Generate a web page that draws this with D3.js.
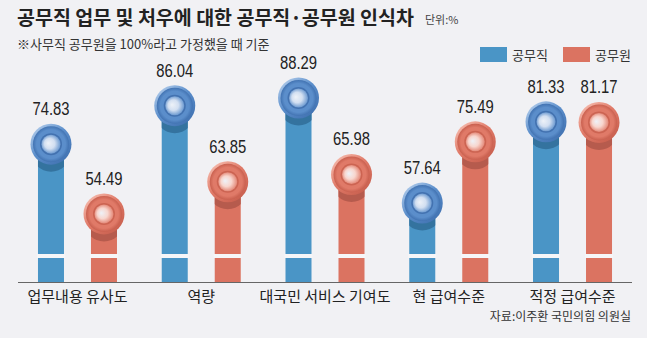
<!DOCTYPE html>
<html>
<head>
<meta charset="utf-8">
<script src="https://cdn.jsdelivr.net/npm/d3@7"></script>
<style>
  html, body { margin: 0; padding: 0; background: #f1f1f4; }
  svg { display: block; }
</style>
</head>
<body>
<svg id="chart" width="647" height="338"></svg>
<script>
// Survey categories and the two respondent groups
const categories = ["업무내용 유사도", "역량", "대국민 서비스 기여도", "현 급여수준", "적정 급여수준"];
const seriesNames = ["공무직", "공무원"];
const gongmujik = [74.83, 86.04, 88.29, 57.64, 81.33];
const gongmuwon = [54.49, 63.85, 65.98, 75.49, 81.17];

const title = "공무직 업무 및 처우에 대한 공무직·공무원 인식차";
const unitText = "단위:%";
const note = "※사무직 공무원을 100%라고 가정했을 때 기준";
const source = "자료:이주환 국민의힘 의원실";

const W = 647, H = 338;
const BG = "#f1f1f4";
const palette = {
  "공무직": { bar: "#4a95c6", shade: "#34739f", light: "#a9c6e8", mid: "#5b8ecb", dark: "#4273b2", core: "#d2dff1", ring: "#4372b0" },
  "공무원": { bar: "#db7361", shade: "#b65b4d", light: "#f4b6a8", mid: "#e07a68", dark: "#c9604f", core: "#f8d6ce", ring: "#cc6452" }
};

const svg = d3.select("#chart");
svg.append("rect").attr("width", W).attr("height", H).attr("fill", BG);

const baseY = 282;
const x0 = d3.scaleBand().domain(categories).range([15.6, 634.4]);
const x1 = d3.scalePoint().domain(seriesNames).range([-26.5, 26.5]);
const y = d3.scaleLinear().domain([0, 100]).range([400.8, 57.8]);
const barW = 26, R = 20.5;

// Gradients for the beveled knobs
const defs = svg.append("defs");
seriesNames.forEach((s, i) => {
  const c = palette[s];
  const outer = defs.append("radialGradient").attr("id", "outer" + i)
    .attr("cx", "50%").attr("cy", "50%").attr("r", "50%").attr("fx", "50%").attr("fy", "50%");
  outer.append("stop").attr("offset", "0%").attr("stop-color", c.mid);
  outer.append("stop").attr("offset", "80%").attr("stop-color", c.mid);
  outer.append("stop").attr("offset", "100%").attr("stop-color", c.dark);
  const rim = defs.append("linearGradient").attr("id", "rim" + i)
    .attr("x1", "15%").attr("y1", "10%").attr("x2", "85%").attr("y2", "90%");
  rim.append("stop").attr("offset", "0%").attr("stop-color", c.light);
  rim.append("stop").attr("offset", "45%").attr("stop-color", c.mid);
  rim.append("stop").attr("offset", "100%").attr("stop-color", c.dark);
  const inner = defs.append("radialGradient").attr("id", "inner" + i)
    .attr("cx", "50%").attr("cy", "50%").attr("r", "55%").attr("fx", "35%").attr("fy", "45%");
  inner.append("stop").attr("offset", "0%").attr("stop-color", "#eef2f8");
  inner.append("stop").attr("offset", "50%").attr("stop-color", c.core);
  inner.append("stop").attr("offset", "100%").attr("stop-color", c.mid);
});

// Title block
svg.append("text").attr("x", 17).attr("y", 25)
  .attr("font-family", "'Noto Sans CJK KR', sans-serif").attr("font-weight", 700)
  .attr("font-size", 19.5).attr("fill", "#222").text(title);
svg.append("text").attr("x", 425).attr("y", 24)
  .attr("font-family", "'Noto Sans CJK KR', sans-serif")
  .attr("font-size", 11).attr("fill", "#444").text(unitText);
svg.append("text").attr("x", 17).attr("y", 49)
  .attr("font-family", "'Noto Sans CJK KR', sans-serif")
  .attr("font-size", 13).attr("fill", "#333").text(note);

// Legend
const legend = svg.append("g").attr("font-family", "'Noto Sans CJK KR', sans-serif");
const legendX = [480, 563];
seriesNames.forEach((s, i) => {
  legend.append("rect").attr("x", legendX[i]).attr("y", 47).attr("width", 27).attr("height", 15)
    .attr("fill", palette[s].bar);
  legend.append("text").attr("x", legendX[i] + 32).attr("y", 60)
    .attr("font-size", 13).attr("fill", "#333").text(s);
});

// Bars with knobs
const rows = categories.map((c, i) => ({ cat: c, vals: [gongmujik[i], gongmuwon[i]] }));
rows.forEach((row, ci) => {
  const g = svg.append("g").attr("transform", `translate(${x0(row.cat) + x0.bandwidth() / 2},0)`);
  row.vals.forEach((v, si) => {
    const s = seriesNames[si];
    const c = palette[s];
    const cx = x1(s), cy = y(v);
    const clipId = `clip${ci}_${si}`;
    defs.append("clipPath").attr("id", clipId)
      .append("rect").attr("x", cx - barW / 2).attr("y", cy).attr("width", barW).attr("height", baseY - cy);
    g.append("rect").attr("x", cx - barW / 2).attr("y", cy).attr("width", barW).attr("height", baseY - cy)
      .attr("fill", c.bar);
    // shadow cast by the knob onto the bar
    g.append("circle").attr("cx", cx).attr("cy", cy + 8).attr("r", R - 1)
      .attr("fill", c.shade).attr("clip-path", `url(#${clipId})`);
    // break strip across the bar
    g.append("rect").attr("x", cx - barW / 2 - 1).attr("y", 254).attr("width", barW + 2).attr("height", 4)
      .attr("fill", "#f6f6f8");
    // knob
    g.append("circle").attr("cx", cx).attr("cy", cy).attr("r", R).attr("fill", `url(#rim${si})`);
    g.append("circle").attr("cx", cx).attr("cy", cy).attr("r", R - 2.5).attr("fill", `url(#outer${si})`);
    g.append("circle").attr("cx", cx).attr("cy", cy).attr("r", 11).attr("fill", c.ring);
    g.append("circle").attr("cx", cx).attr("cy", cy).attr("r", 9.5).attr("fill", `url(#inner${si})`);
    // value label
    g.append("text").attr("transform", `translate(${cx},${cy - 29}) scale(0.78,1)`)
      .attr("text-anchor", "middle")
      .attr("font-family", "'Liberation Sans', Arial, sans-serif")
      .attr("font-size", 19).attr("fill", "#222").text(d3.format(".2f")(v));
  });
});

// Baseline axis with category labels
const axis = d3.axisBottom(x0).tickSize(0).tickPadding(9);
const axG = svg.append("g").attr("transform", `translate(0,${baseY})`).call(axis);
axG.select(".domain").attr("d", "M18,0.5H632").attr("stroke", "#666").attr("stroke-width", 1);
axG.selectAll(".tick text")
  .attr("font-family", "'Noto Sans CJK KR', sans-serif").attr("font-size", 15).attr("fill", "#222");

svg.append("text").attr("x", 631).attr("y", 321).attr("text-anchor", "end")
  .attr("font-family", "'Noto Sans CJK KR', sans-serif")
  .attr("font-size", 12).attr("fill", "#333").text(source);
</script>
</body>
</html>
